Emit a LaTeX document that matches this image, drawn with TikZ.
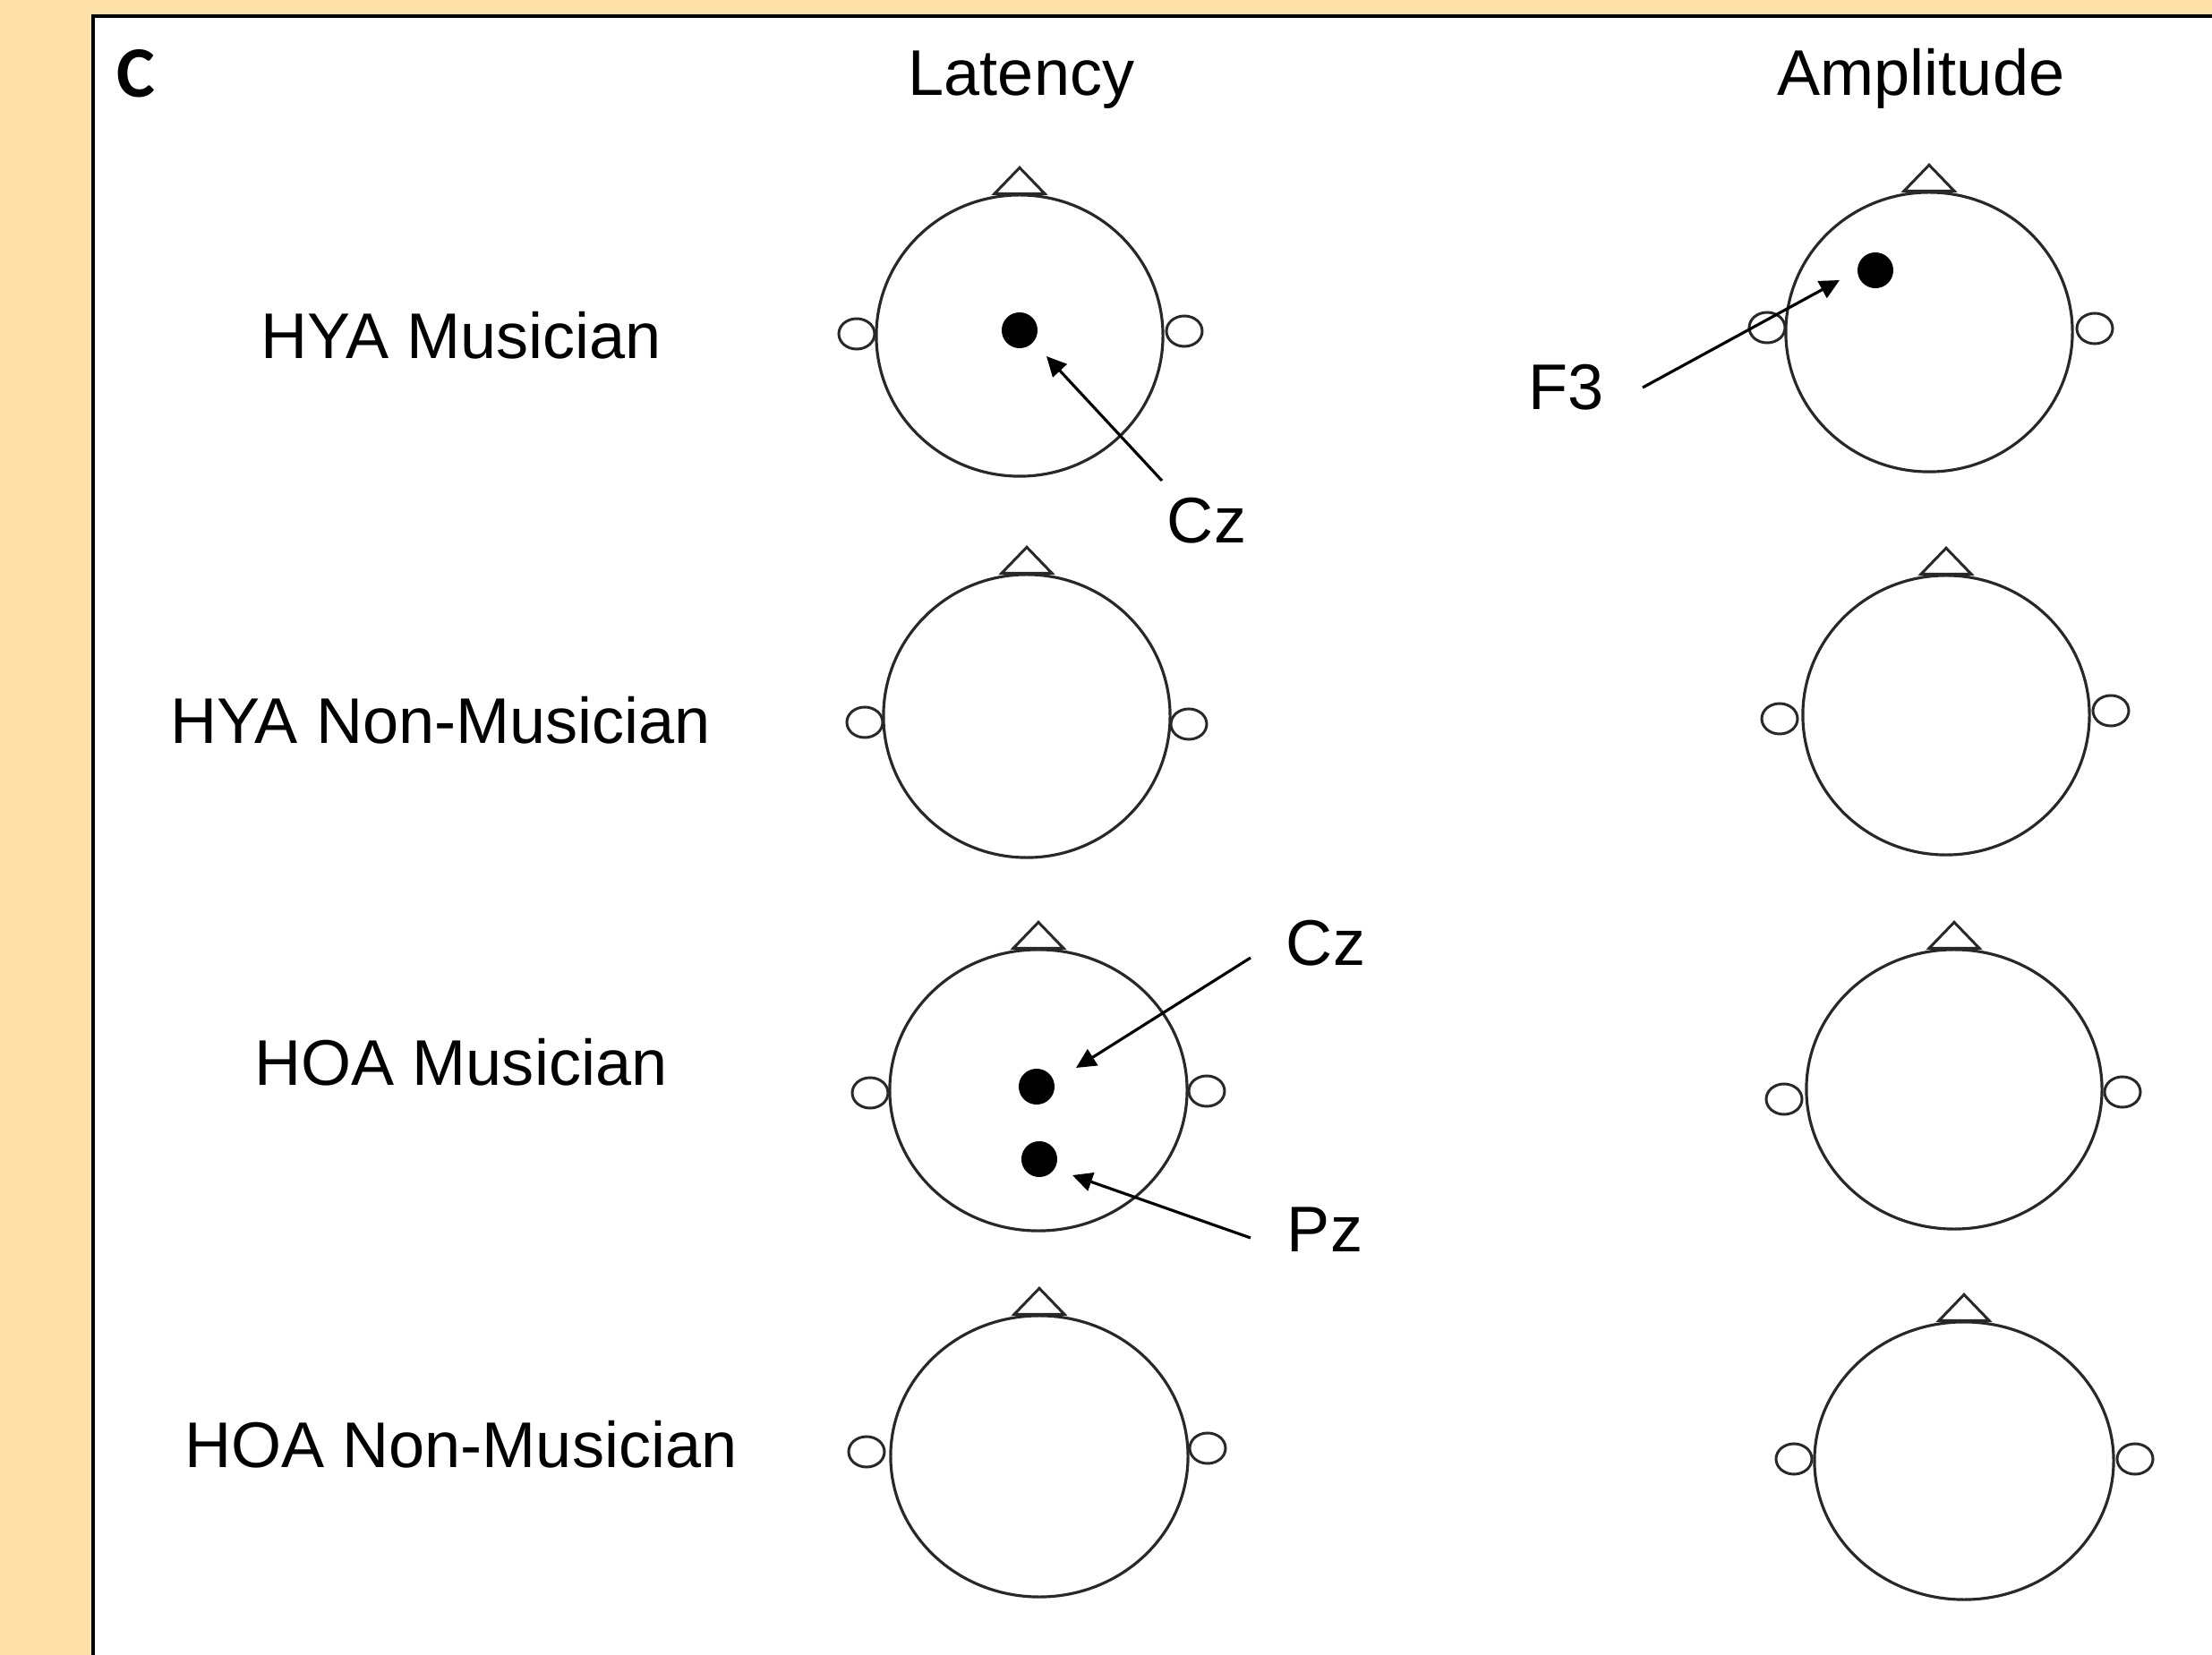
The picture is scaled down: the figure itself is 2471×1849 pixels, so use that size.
\documentclass[tikz,border=0pt]{standalone}
\usepackage{fontspec}
\setmainfont{Liberation Sans}
\newfontfamily\panelfont{Carlito}
\usetikzlibrary{shapes.geometric,arrows.meta}
\definecolor{bgorange}{RGB}{254,225,168}
\definecolor{lineg}{RGB}{40,40,40}
\begin{document}
\begin{tikzpicture}[x=0.01cm,y=-0.01cm,
  head/.style={ellipse,draw=lineg,line width=0.9pt,fill=white,inner sep=0pt},
  ear/.style={ellipse,draw=lineg,line width=0.85pt,fill=white,inner sep=0pt,minimum width=0.4cm,minimum height=0.34cm},
  nose/.style={draw=lineg,line width=0.85pt,fill=white,line join=miter},
  edot/.style={circle,fill=black,inner sep=0pt,minimum size=0.4cm},
  arr/.style={-{Triangle[length=6.3pt,width=6pt]},line width=0.9pt,black},
  lbl/.style={font=\fontsize{20.5pt}{24pt}\selectfont,anchor=base,inner sep=0pt}]
\useasboundingbox (0,0) rectangle (2471,1849);
\fill[bgorange] (0,0) rectangle (2471,1849);
\fill[white] (104,18) rectangle (2471,1849);
\draw[line width=0.9pt] (104,1849) -- (104,18) -- (2471,18);

% ears
\node[ear] (eL1l) at (957,373) {};  \node[ear] (eL1r) at (1323,370) {};
\node[ear] (eL2l) at (966,807) {};  \node[ear] (eL2r) at (1328,809) {};
\node[ear] (eL3l) at (972,1221) {}; \node[ear] (eL3r) at (1348,1219) {};
\node[ear] (eL4l) at (968,1622) {}; \node[ear] (eL4r) at (1349,1618) {};
\node[ear] (eA1l) at (1974,366) {}; \node[ear] (eA1r) at (2340,367) {};
\node[ear] (eA2l) at (1988,803) {}; \node[ear] (eA2r) at (2358,794) {};
\node[ear] (eA3l) at (1993,1228) {}; \node[ear] (eA3r) at (2371,1220) {};
\node[ear] (eA4l) at (2004,1630) {}; \node[ear] (eA4r) at (2385,1630) {};

% heads
\node[head,minimum width=3.2cm,minimum height=3.14cm] (hL1) at (1139,375) {};
\node[head,minimum width=3.2cm,minimum height=3.16cm] (hL2) at (1147,800) {};
\node[head,minimum width=3.32cm,minimum height=3.14cm] (hL3) at (1160,1218) {};
\node[head,minimum width=3.32cm,minimum height=3.14cm] (hL4) at (1161,1627) {};
\node[head,minimum width=3.2cm,minimum height=3.12cm] (hA1) at (2155,371) {};
\node[head,minimum width=3.2cm,minimum height=3.12cm] (hA2) at (2174,799) {};
\node[head,minimum width=3.3cm,minimum height=3.12cm] (hA3) at (2183,1217) {};
\node[head,minimum width=3.34cm,minimum height=3.1cm] (hA4) at (2194,1632) {};

% noses
\foreach \h in {hL1,hL2,hL3,hL4,hA1,hA2,hA3,hA4}{
  \draw[nose] (\h.north) ++(-28,0) -- ++(28,-29) -- ++(28,29) -- cycle;
}

% electrodes
\node[edot] (dL1) at (1139,369) {};
\node[edot] (dA1) at (2095,302) {};
\node[edot] (dCz) at (1158,1214) {};
\node[edot] (dPz) at (1161,1295) {};

% labels
\node[font=\panelfont\bfseries\fontsize{23pt}{28pt}\selectfont,anchor=base,inner sep=0pt] (panel) at (152,109) {C};
\node[lbl] (tLat) at (1141,107) {Latency};
\node[lbl] (tAmp) at (2146,107) {Amplitude};
\node[lbl] (r1) at (515,401) {HYA Musician};
\node[lbl] (r2) at (492,831) {HYA Non-Musician};
\node[lbl] (r3) at (515,1212) {HOA Musician};
\node[lbl] (r4) at (515,1639) {HOA Non-Musician};
\node[lbl] (lCz1) at (1348,607) {Cz};
\node[lbl] (lF3) at (1750,458) {F3};
\node[lbl] (lCz3) at (1481,1079) {Cz};
\node[lbl] (lPz) at (1480,1398) {Pz};

% arrows
\coordinate (sCz1) at (1298,537); \coordinate (tCz1) at (1169,398);
\coordinate (sF3) at (1835,433);  \coordinate (tF3) at (2055,313);
\coordinate (sCz3) at (1397,1070); \coordinate (tCz3) at (1202,1193);
\coordinate (sPz) at (1397,1383); \coordinate (tPz) at (1198,1313);
\draw[arr] (sCz1) -- (tCz1);
\draw[arr] (sF3) -- (tF3);
\draw[arr] (sCz3) -- (tCz3);
\draw[arr] (sPz) -- (tPz);
\end{tikzpicture}
\end{document}
